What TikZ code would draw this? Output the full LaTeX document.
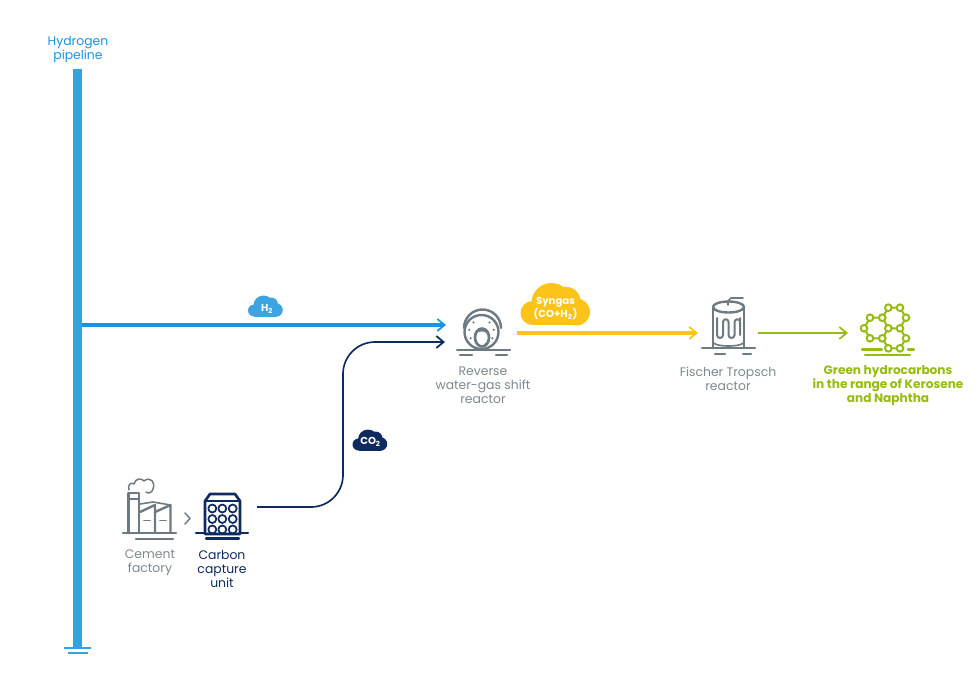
\documentclass[tikz,border=0pt]{standalone}
\usepackage{fontspec}
\setmainfont{Poppins}
\usetikzlibrary{arrows.meta}
\definecolor{pipeblue}{HTML}{2FA5E0}
\definecolor{hblue}{HTML}{1A94DC}
\definecolor{navy}{HTML}{0F2A5E}
\definecolor{sun}{HTML}{FCC419}
\definecolor{leaf}{HTML}{96BC12}
\definecolor{steel}{HTML}{6E7A82}
\definecolor{steeltxt}{HTML}{7C8890}
\tikzset{
  x=0.75pt,y=-0.75pt,
  lbl/.style={align=center,inner sep=0pt,font=\fontsize{9.3}{10.5}\selectfont},
  icon/.style={line width=1.6pt,line cap=round,line join=round},
  barb/.style={-{Straight Barb[length=5.5pt,width=9pt,line width=1.3pt]}},
  ring/.style={draw=leaf,line width=1.5pt,fill=white,circle,inner sep=0pt,minimum size=5pt},
  hole/.style={draw=navy,line width=1.3pt,circle,inner sep=0pt,minimum size=6pt},
}
\newcommand{\cloudshape}[4]{%
  \begin{scope}[shift={(#1,#2)},scale=#3]
    \fill[#4] (-23,9) circle[radius=12];
    \fill[#4] (21,8) circle[radius=13.5];
    \fill[#4] (-4,-1) circle[radius=20];
    \fill[#4] (11,-3) circle[radius=14];
    \fill[#4] (-23,-2) rectangle (21,21);
  \end{scope}}
\begin{document}
\begin{tikzpicture}
\useasboundingbox (0,0) rectangle (980,677);
\fill[white] (0,0) rectangle (980,677);

% pipeline
\node[minimum width=6.75pt,minimum height=434pt,inner sep=0pt,fill=pipeblue] (pipe) at (77.5,358.5) {};
\draw[pipeblue,line width=2.2pt] (64,648) -- (91,648);
\draw[pipeblue,line width=2.2pt] (68,653) -- (88,653);
\node[lbl,text=hblue] (pipelabel) at (78,49.5) {Hydrogen\\pipeline};

% clouds
\cloudshape{265.5}{306}{0.5}{hblue!85!white}
\node[inner sep=0pt,text=white,font=\bfseries\fontsize{7.5}{8}\selectfont] (h2) at (267,309) {H\textsubscript{2}};
\cloudshape{370}{440}{0.5}{navy}
\node[inner sep=0pt,text=white,font=\bfseries\fontsize{7.6}{8}\selectfont] (co2) at (370.5,442) {CO\textsubscript{2}};
\cloudshape{555.5}{304}{1}{sun}
\node[lbl,inner sep=0pt,text=white,font=\bfseries\fontsize{7.6}{10}\selectfont] (syngas) at (555.5,308.5) {Syngas\\(CO+H\textsubscript{2})};

% connector end points
\coordinate (h2a) at (82,325);
\coordinate (h2b) at (446,325);
\coordinate (co2a) at (257,507);
\coordinate (co2b) at (445,342);
\coordinate (sa) at (517,333);
\coordinate (sb) at (698,333);
\coordinate (ga) at (758,333);
\coordinate (gb) at (848,333);

\draw[hblue,line width=2.5pt,barb] (h2a) -- (h2b);
\draw[navy,line width=1.25pt,barb,rounded corners=24pt] (co2a) -- (343,507) -- (343,342) -- (co2b);
\draw[sun,line width=2.5pt,barb] (sa) -- (sb);
\draw[leaf,line width=1.4pt,barb] (ga) -- (gb);

% cement factory
\begin{scope}[icon,draw=steel]
  \draw[steel] (123,533) -- (176,533);
  \draw[steel] (136,539) -- (173,539);
  \draw[steel,line width=2pt] (128.5,533) -- (128.5,493) -- (139,493) -- (139,533);
  \draw[steel,line width=1.2pt] (128.5,499) -- (139,499);
  \draw[steel,line width=1.8pt] (140,512) -- (155,505) -- (155,533);
  \draw[steel,line width=1.8pt] (155,512) -- (170.5,505) -- (170.5,533);
  \draw[steel,line width=1.2pt] (140,504) -- (153,502) -- (170.5,505);
  \draw[steel,line width=1.2pt] (144,520.5) -- (150,520.5) (160,520.5) -- (166,520.5);
  \draw[steel,line width=1.1pt] (129,490) .. controls (127,484) and (132,482) .. (134,484) .. controls (135,478) and (142,478) .. (144,481) .. controls (150,476) and (156,482) .. (153,489) .. controls (152,493) and (148,494) .. (146,492);
  \draw[steel,line width=1.1pt] (185,513) -- (190,518.5) -- (185,524);
\end{scope}

% carbon capture unit
\begin{scope}[icon]
  \draw[navy] (196,533) -- (248,533);
  \draw[navy,fill=white,line width=2pt] (205,534) -- (205,501) -- (210,494) -- (235,494) -- (240,501) -- (240,534) -- cycle;
  \draw[navy,line width=1.1pt] (205,501) -- (240,501);
  \draw[navy] (206,538.5) -- (239,538.5);
  \foreach \px in {212.3,222.3,232.7}{\foreach \py in {509,519.5,530}{\node[hole] at (\px,\py-0.5) {};}}
\end{scope}

% reverse water-gas shift reactor
\begin{scope}[icon]
  \draw[steel] (457,350) -- (510,350);
  \draw[steel] (460,355) -- (472,355) (496,355) -- (507,355);
  \draw[steel,line width=1.8pt] (464,328) arc[start angle=180,end angle=360,radius=18.5];
  \draw[steel,fill=white,line width=1.8pt] (481.5,332) circle[radius=17];
  \draw[steel,line width=2pt] (482,337.5) ellipse[x radius=7,y radius=9];
  \draw[steel,line width=1.1pt] (475,334) arc[start angle=200,end angle=340,x radius=7,y radius=5];
  \foreach \a in {30,70,110,150,190,230,310,350}{\fill[steel] (481.5,332)+(\a:12.5) circle[radius=1.2];}
\end{scope}

% Fischer Tropsch reactor
\begin{scope}[icon]
  \draw[steel] (702,348) -- (755,348);
  \draw[steel] (715,354) -- (725,354) (743,354) -- (751,354);
  \draw[steel,line width=1.8pt] (713,307) -- (713,348) (744,307) -- (744,348);
  \draw[steel,line width=1.8pt] (728.5,307) ellipse[x radius=15.5,y radius=5.5];
  \draw[steel,line width=1.2pt] (713,342) arc[start angle=180,end angle=0,x radius=15.5,y radius=4];
  \draw[steel,line width=1.2pt] (728,305) -- (728,301) -- (731,298) -- (743,298);
  \draw[steel,line width=1.5pt] (717,318) -- (717,335) arc[start angle=180,end angle=0,radius=3] -- (723,322) arc[start angle=180,end angle=360,radius=2.75] -- (728.5,335) arc[start angle=180,end angle=0,radius=3] -- (734.5,322) arc[start angle=180,end angle=360,radius=2.75] -- (740,335) -- (740,318);
\end{scope}

% molecule
\begin{scope}[icon]
  \draw[leaf] (862,349.5) -- (882,349.5) (908,349.5) -- (914,349.5);
  \draw[leaf] (865,355) -- (910,355);
  \draw[leaf,line width=1.5pt]
    (888.3,307.7) -- (900,307.7) -- (906,317.7) -- (900,328.3) -- (888.3,328.3) -- (882.3,317.7) -- cycle
    (882.3,317.7) -- (870,317.7) -- (864,328.3) -- (870,338.3) -- (882.3,338.3) -- (888.3,328.3)
    (900,328.3) -- (906,338.3) -- (900,348.3) -- (888.3,348.3) -- (882.3,338.3);
  \foreach \px/\py in {888.3/307.7,900/307.7,906/317.7,900/328.3,888.3/328.3,882.3/317.7,870/317.7,864/328.3,870/338.3,882.3/338.3,906/338.3,900/348.3,888.3/348.3}{\node[ring] at (\px,\py) {};}
\end{scope}

% labels
\node[lbl,text=steeltxt] (cement) at (150,562.5) {Cement\\factory};
\node[lbl,text=navy] (capture) at (222,568.5) {Carbon\\capture\\unit};
\node[lbl,text=steeltxt] (rwgs) at (483,385.5) {Reverse\\water-gas shift\\reactor};
\node[lbl,text=steeltxt] (ft) at (728,378.5) {Fischer Tropsch\\reactor};
\node[lbl,text=leaf,font=\bfseries\fontsize{9.1}{10.5}\selectfont] (green) at (888,385.5) {Green hydrocarbons\\in the range of Kerosene\\and Naphtha};
\end{tikzpicture}
\end{document}
